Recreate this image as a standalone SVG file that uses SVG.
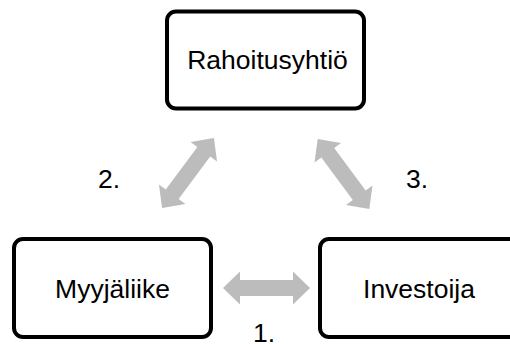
<svg xmlns="http://www.w3.org/2000/svg" width="510" height="344" viewBox="0 0 510 344">
<defs>
<style>
.box{fill:#fff;stroke:#000;stroke-width:4}
.t{font-family:"Liberation Sans",Arial,sans-serif;font-size:26.5px;fill:#000}
.arr{fill:#bcbcbc}
</style>
<polygon id="dbl" points="-43.5,0 -26.5,-16.5 -26.5,-8 26.5,-8 26.5,-16.5 43.5,0 26.5,16.5 26.5,8 -26.5,8 -26.5,16.5"/>
</defs>
<rect width="510" height="344" fill="#fff"/>
<g id="connectors" class="arr">
<use href="#dbl" transform="translate(266.5,288)"/>
<use href="#dbl" transform="translate(188,173) rotate(-53.4)"/>
<use href="#dbl" transform="translate(343.5,174) rotate(53.6)"/>
</g>
<g id="rahoitusyhtio">
<rect class="box" x="167" y="11.5" width="197" height="97" rx="9"/>
<text class="t" x="267.5" y="69" text-anchor="middle">Rahoitusyhtiö</text>
</g>
<g id="myyjaliike">
<rect class="box" x="14" y="239" width="197" height="98" rx="9"/>
<text class="t" x="112.5" y="298" text-anchor="middle">Myyjäliike</text>
</g>
<g id="investoija">
<rect class="box" x="320" y="239" width="200" height="98" rx="9"/>
<text class="t" x="419" y="298" text-anchor="middle">Investoija</text>
</g>
<g id="labels">
<text class="t" x="98" y="188">2.</text>
<text class="t" x="406" y="188">3.</text>
<text class="t" x="253" y="342">1.</text>
</g>
</svg>
